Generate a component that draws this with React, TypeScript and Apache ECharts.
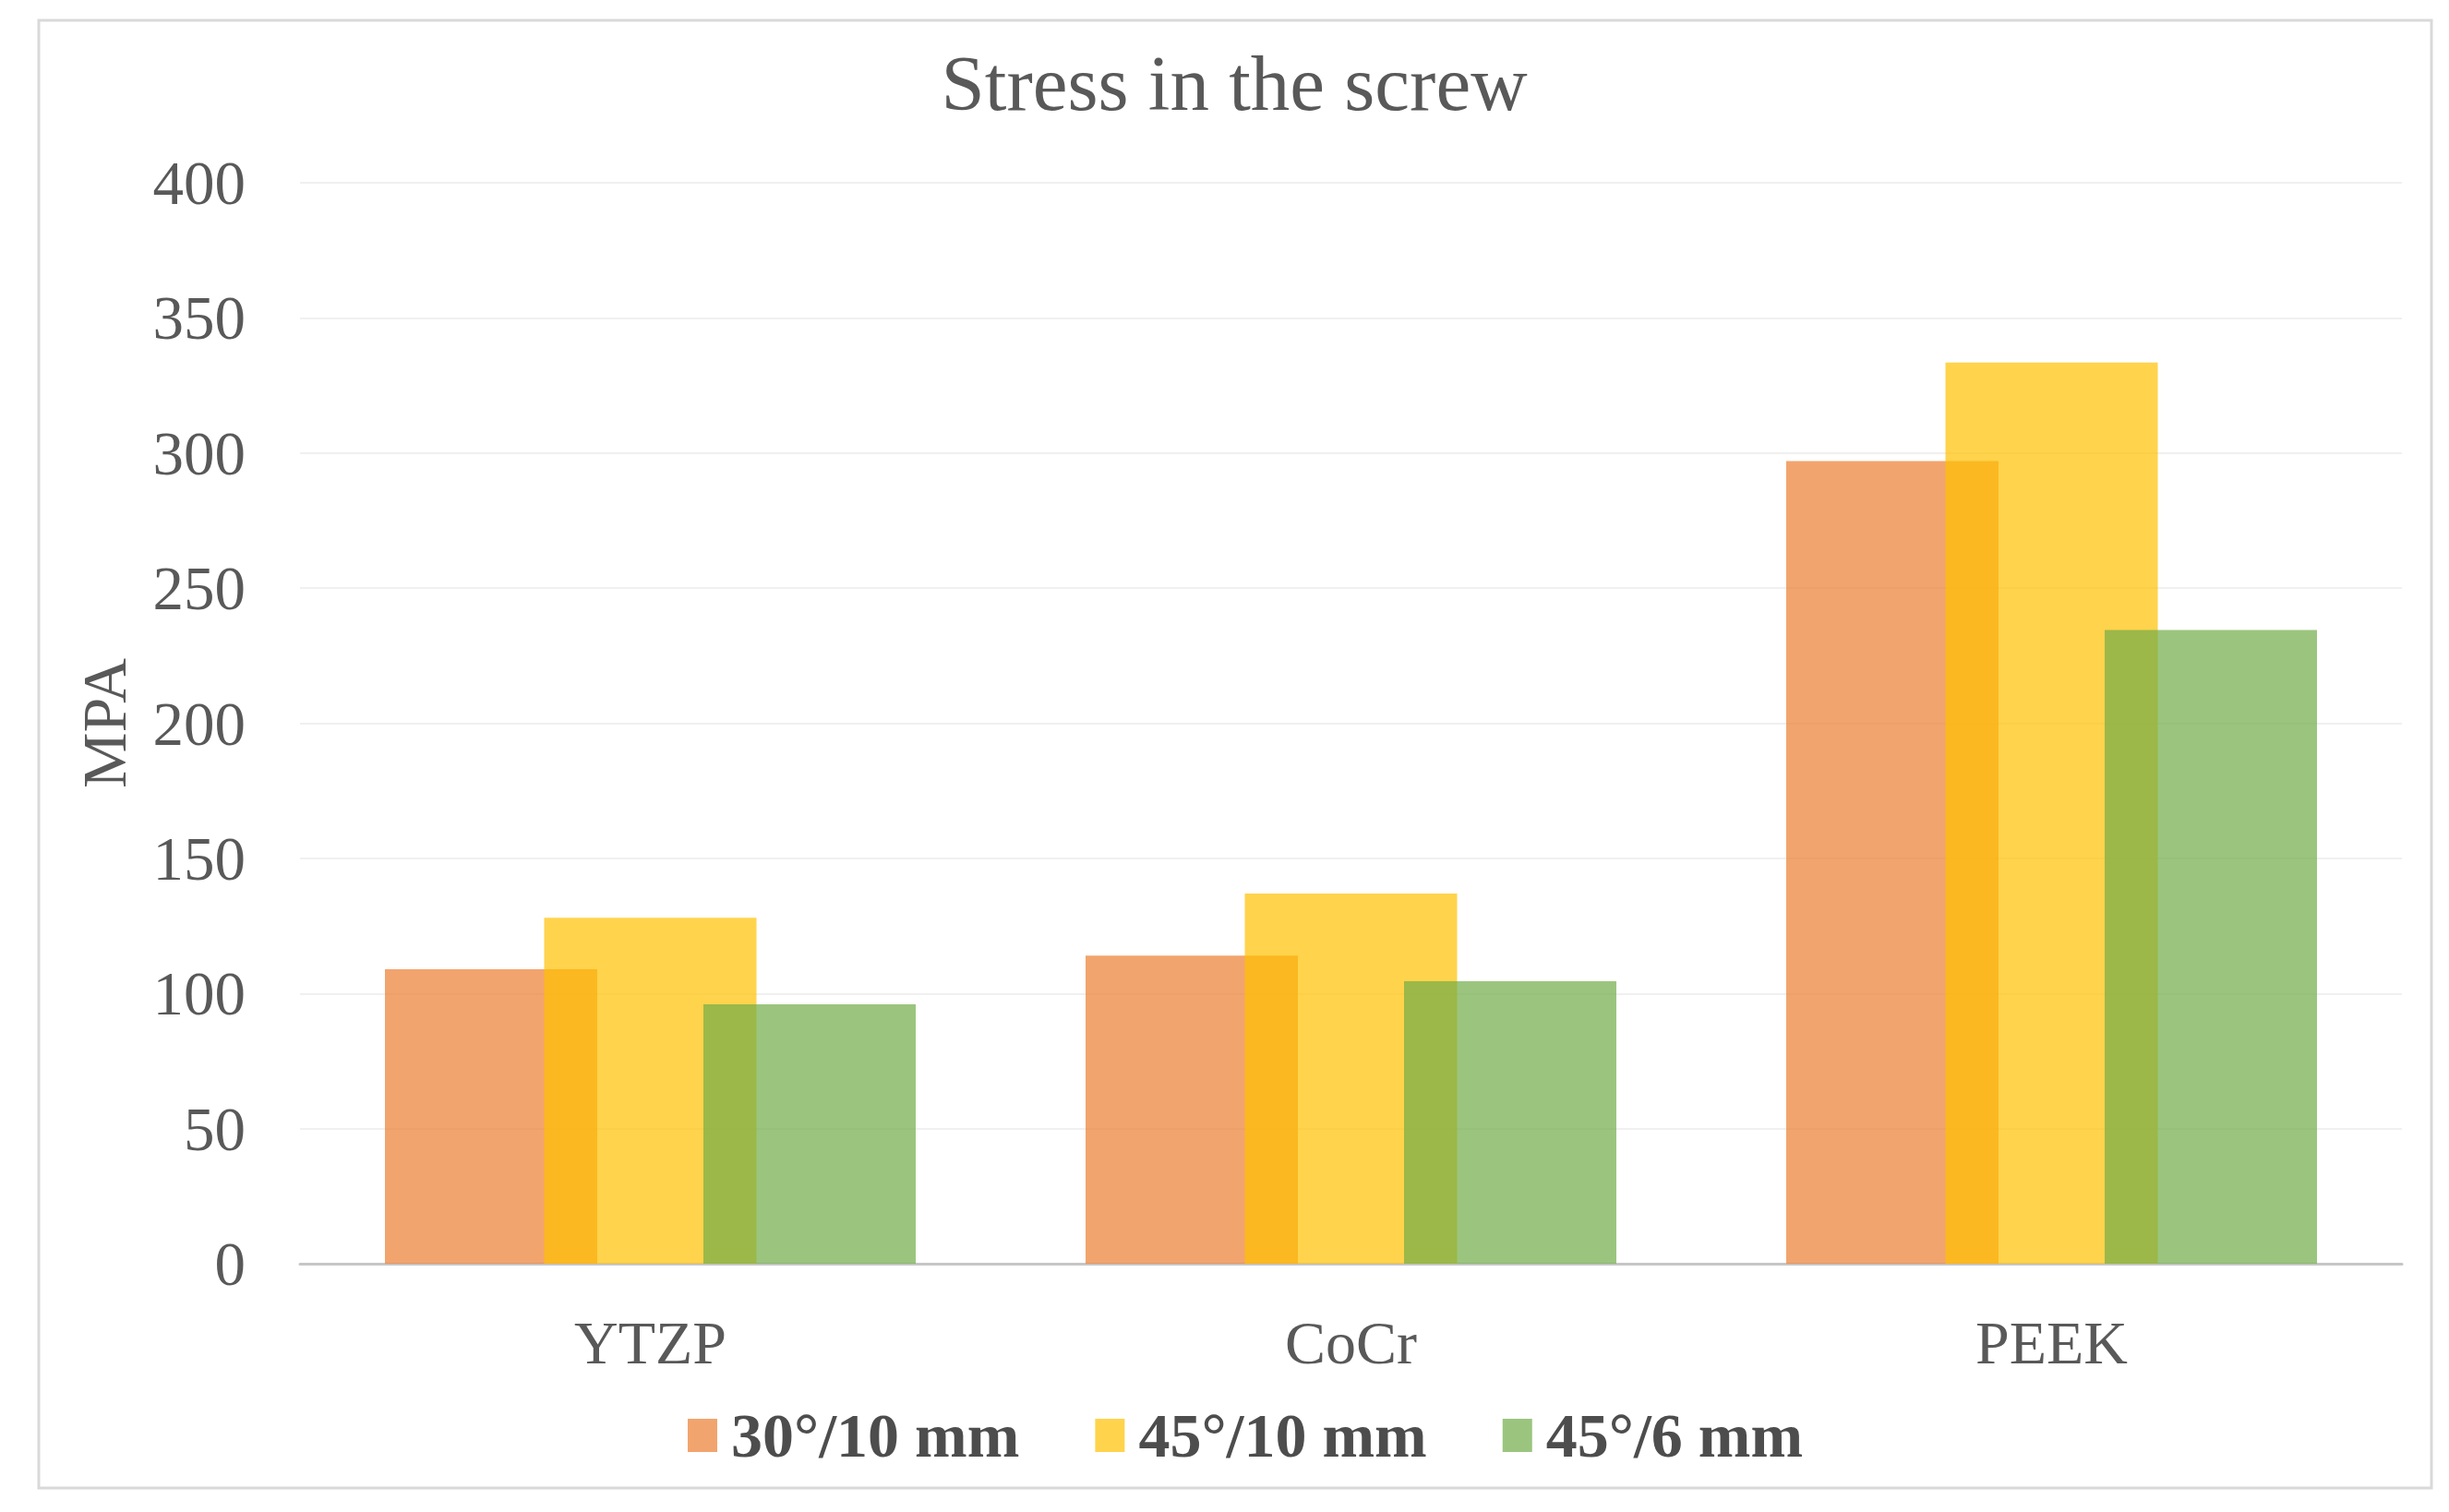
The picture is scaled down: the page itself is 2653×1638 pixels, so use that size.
import React, { useEffect, useRef } from "react";
import * as echarts from "echarts";

const categories = ["YTZP", "CoCr", "PEEK"];
const seriesNames = ["30°/10 mm", "45°/10 mm", "45°/6 mm"];
const s30_10 = [109, 114, 297];
const s45_10 = [128, 137, 333.5];
const s45_6 = [96, 104.5, 234.5];
const seriesColors = ["#ED7D31", "#FFC000", "#70AD47"];
const yTicks = { min: 0, max: 400, interval: 50 };

const FONT = "'Liberation Serif', 'Times New Roman', serif";
const GRAY = "#595959";

export default function App() {
  const ref = useRef<HTMLDivElement>(null);
  useEffect(() => {
    if (!ref.current) return;
    const chart = echarts.init(ref.current, undefined, { renderer: "svg" });
    const values = [s30_10, s45_10, s45_6];
    chart.setOption({
      animation: false,
      backgroundColor: "#ffffff",
      graphic: [
        {
          type: "rect",
          shape: { x: 42, y: 22, width: 2592, height: 1590 },
          style: { fill: "none", stroke: "#d9d9d9", lineWidth: 3 },
          silent: true,
        },
        {
          type: "text",
          x: 1337,
          y: 90,
          style: {
            text: "Stress in the screw",
            fill: GRAY,
            font: `85px ${FONT}`,
            textAlign: "center",
            textVerticalAlign: "middle",
          },
        },
      ],
      legend: {
        left: 740,
        top: 1516,
        itemWidth: 32,
        itemHeight: 36,
        itemGap: 82,
        icon: "rect",
        data: seriesNames,
        textStyle: {
          fontFamily: FONT,
          fontSize: 68,
          fontWeight: "bold",
          color: "#4d4d4d",
          padding: [0, 0, 0, 10],
        },
      },
      grid: { left: 325, right: 51, top: 198, bottom: 269 },
      xAxis: {
        type: "category",
        data: categories,
        axisTick: { show: false },
        axisLine: { show: true, lineStyle: { color: "#c6c6c6", width: 3 } },
        axisLabel: { fontFamily: FONT, fontSize: 66, color: GRAY, margin: 52 },
      },
      yAxis: {
        type: "value",
        min: yTicks.min,
        max: yTicks.max,
        interval: yTicks.interval,
        name: "MPA",
        nameLocation: "middle",
        nameRotate: 90,
        nameGap: 178,
        nameTextStyle: { fontFamily: FONT, fontSize: 68, color: GRAY },
        axisLine: { show: false },
        axisTick: { show: false },
        axisLabel: { fontFamily: FONT, fontSize: 67, color: GRAY, margin: 59 },
        splitLine: { lineStyle: { color: "#f0f0f0", width: 2 } },
      },
      series: seriesNames.map((name, i) => ({
        name,
        type: "bar",
        data: values[i],
        barWidth: 230,
        barGap: "-25%",
        itemStyle: { color: seriesColors[i], opacity: 0.7 },
      })),
    });
    return () => chart.dispose();
  }, []);
  return (
    <div
      ref={ref}
      style={{ position: "fixed", left: 0, top: 0, width: 2653, height: 1638 }}
    />
  );
}
